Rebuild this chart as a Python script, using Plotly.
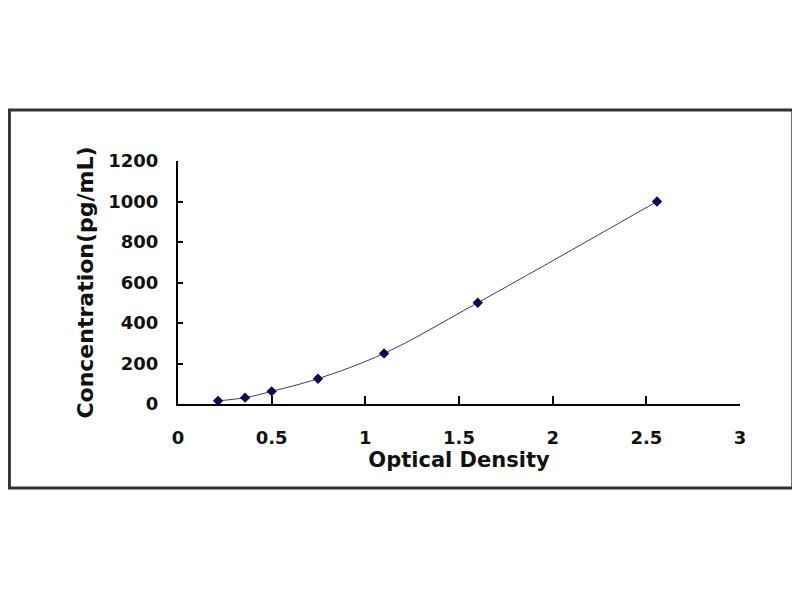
import plotly.graph_objects as go

# standard curve readings
od = [0.214, 0.358, 0.50, 0.747, 1.10, 1.60, 2.557]
conc = [15.6, 31.25, 62.5, 125, 250, 500, 1000]

x_ticks = [0, 0.5, 1, 1.5, 2, 2.5, 3]
x_labels = ['0', '0.5', '1', '1.5', '2', '2.5', '3']
y_ticks = [0, 200, 400, 600, 800, 1000, 1200]

font_main = 'DejaVu Sans, Verdana, sans-serif'

fig = go.Figure()
fig.add_trace(go.Scatter(
    x=od, y=conc,
    mode='lines+markers',
    line=dict(color='#3a3a6a', width=1, shape='spline'),
    marker=dict(symbol='diamond', size=8, color='#0a0a50'),
    showlegend=False,
))

# page body adds 8px offset, so margins are 8px smaller than the target spots
fig.update_layout(
    width=800, height=600,
    paper_bgcolor='white', plot_bgcolor='white',
    margin=dict(l=170, r=68, t=153, b=204),
    font=dict(family=font_main, color='#111111'),
    shapes=[dict(
        type='rect', xref='paper', yref='paper',
        x0=-0.3, x1=1.094, y0=-0.346, y1=1.21,
        line=dict(color='#333333', width=3),
    )],
)

fig.update_xaxes(
    range=[0, 3], tickvals=x_ticks, ticktext=x_labels,
    showgrid=False, zeroline=False,
    showline=True, linecolor='black', linewidth=2,
    ticks='inside', ticklen=8, tickwidth=1.5, tickcolor='black',
    tickfont=dict(size=18, family=font_main, weight='bold'),
    ticklabelstandoff=16,
    title=dict(text='Optical Density', standoff=1,
               font=dict(size=21, family=font_main, weight='bold')),
)
fig.update_yaxes(
    range=[0, 1200], tickvals=y_ticks,
    showgrid=False, zeroline=False,
    showline=True, linecolor='black', linewidth=2,
    ticks='inside', ticklen=5, tickwidth=1.5, tickcolor='black',
    tickfont=dict(size=18, family=font_main, weight='bold'),
    ticklabelstandoff=14,
    title=dict(text='Concentration(pg/mL)', standoff=9,
               font=dict(size=22, family=font_main, weight='bold')),
)

fig.write_html('out.html')
